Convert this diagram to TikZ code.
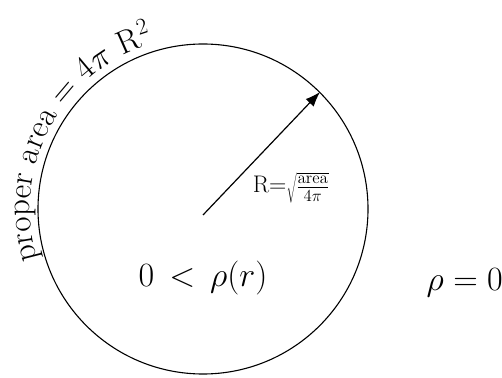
\RequirePackage{fix-cm}
\documentclass[tikz,border=0pt]{standalone}
\usetikzlibrary{arrows.meta,decorations.text}
\begin{document}
\begin{tikzpicture}[x=1pt,y=1pt,
  ring/.style={circle,draw,line width=1.1pt,minimum size=330pt,inner sep=0pt},
  radius arrow/.style={line width=1.2pt,-{Latex[length=15pt,width=11pt]}},
  bigmath/.style={inner sep=0pt,font=\fontsize{34}{38}\selectfont},
  smallmath/.style={inner sep=0pt,font=\fontsize{24}{28}\selectfont}]
\useasboundingbox (0,0) rectangle (502,377);
\clip (0,0) rectangle (502,377);
\coordinate (c) at (203,168);
\node[ring] (circ) at (c) {};
\coordinate (tail) at (203,162);
\draw[radius arrow] (tail) -- (circ.45);
\path[font=\fontsize{33}{37}\selectfont,decorate,decoration={text along path,text align=left,
  text={|\fontsize{33}{37}\selectfont|proper area = 4{$\pi$} R{$^2$}}}]
  ([shift={(197:173)}]c) arc[start angle=197,end angle=90,radius=173];
\node[smallmath] (rform) at (291,189) {$\mathrm{R}{=}\sqrt{\frac{\mathrm{area}}{4\pi}}$};
\node[bigmath,anchor=base] (inside) at (203,90) {$0\mathrel{\,<\,}\rho(r)$};
\node[bigmath,anchor=base east] (outside) at (503,87) {$\rho=0$};
\end{tikzpicture}
\end{document}
